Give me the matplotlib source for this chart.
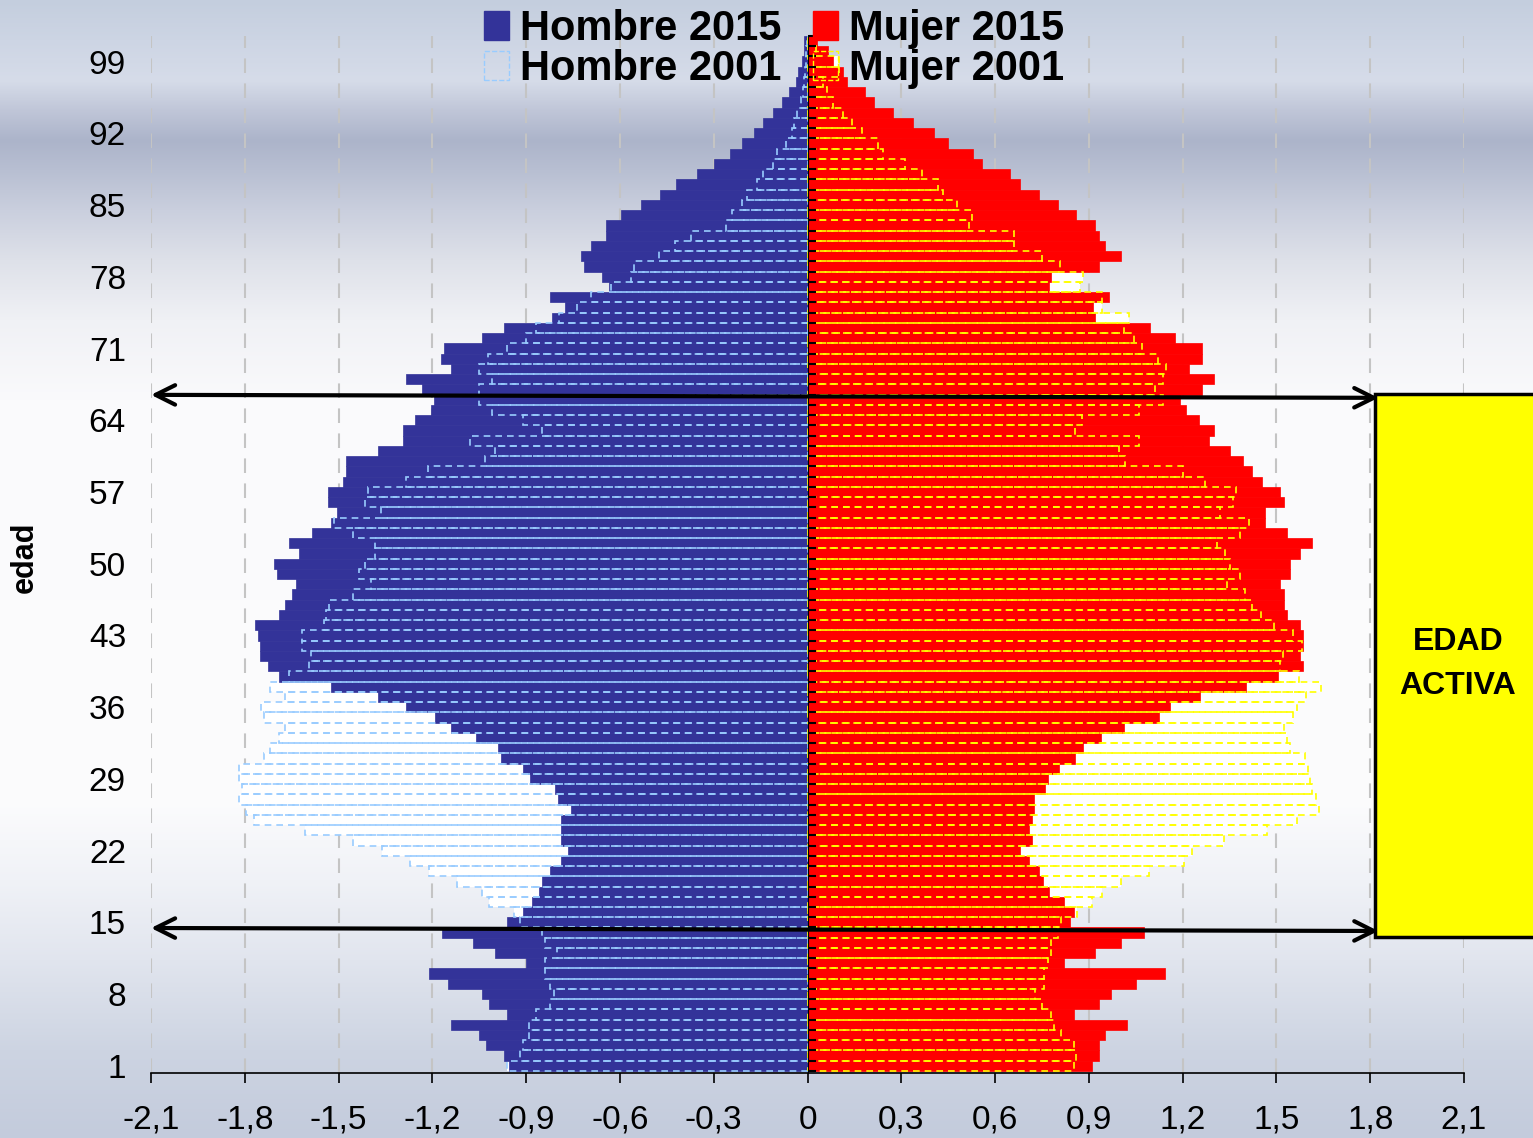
import numpy as np
import matplotlib
matplotlib.use("Agg")
import matplotlib.pyplot as plt
from matplotlib.patches import Patch, Rectangle

plt.rcParams['font.family'] = ['Liberation Sans', 'DejaVu Sans']

# edades 1..101
edades = np.arange(1, 102)

hombre_2015 = [
    -0.956, -0.97, -1.03, -1.05, -1.14, -0.96, -1.02, -1.04, -1.15, -1.21,
    -0.90, -1.00, -1.07, -1.17, -0.96, -0.91, -0.88, -0.86, -0.85, -0.825,
    -0.79, -0.767, -0.788, -0.788, -0.788, -0.758, -0.798, -0.807, -0.888, -0.91,
    -0.98, -0.99, -1.06, -1.14, -1.19, -1.285, -1.375, -1.525, -1.69, -1.726,
    -1.75, -1.75, -1.758, -1.768, -1.69, -1.67, -1.65, -1.637, -1.698, -1.708,
    -1.628, -1.657, -1.586, -1.525, -1.506, -1.535, -1.535, -1.487, -1.477, -1.477,
    -1.375, -1.295, -1.295, -1.254, -1.203, -1.194, -1.234, -1.285, -1.14, -1.173,
    -1.163, -1.042, -0.97, -0.816, -0.777, -0.825, -0.634, -0.656, -0.716, -0.726,
    -0.694, -0.646, -0.646, -0.595, -0.534, -0.473, -0.422, -0.352, -0.30, -0.249,
    -0.211, -0.17, -0.141, -0.109, -0.08, -0.058, -0.038, -0.029, -0.019, -0.012,
    -0.01]

hombre_2001 = [
    -0.96, -0.92, -0.91, -0.89, -0.89, -0.87, -0.825, -0.81, -0.825, -0.84,
    -0.84, -0.80, -0.84, -0.85, -0.92, -0.94, -1.02, -1.04, -1.12, -1.21,
    -1.27, -1.36, -1.455, -1.607, -1.77, -1.797, -1.82, -1.81, -1.82, -1.82,
    -1.74, -1.718, -1.69, -1.67, -1.74, -1.748, -1.67, -1.718, -1.66, -1.595,
    -1.588, -1.617, -1.617, -1.548, -1.54, -1.53, -1.455, -1.395, -1.434, -1.415,
    -1.385, -1.385, -1.455, -1.516, -1.364, -1.415, -1.405, -1.283, -1.214, -1.031,
    -1.0, -1.08, -0.85, -0.909, -1.01, -1.052, -1.052, -1.01, -1.052, -1.022,
    -0.96, -0.90, -0.867, -0.796, -0.736, -0.694, -0.63, -0.564, -0.556, -0.474,
    -0.423, -0.372, -0.262, -0.243, -0.211, -0.192, -0.16, -0.141, -0.109, -0.099,
    -0.07, -0.051, -0.042, -0.032, -0.022, -0.015, -0.01, -0.008, -0.005, -0.004,
    -0.003]

mujer_2015 = [
    0.911, 0.934, 0.934, 0.953, 1.023, 0.851, 0.934, 0.972, 1.052, 1.145,
    0.822, 0.921, 1.004, 1.075, 0.841, 0.851, 0.822, 0.771, 0.752, 0.739,
    0.71, 0.679, 0.718, 0.708, 0.718, 0.726, 0.726, 0.759, 0.769, 0.806,
    0.857, 0.88, 0.938, 1.011, 1.123, 1.161, 1.254, 1.404, 1.505, 1.585,
    1.575, 1.585, 1.585, 1.575, 1.533, 1.525, 1.525, 1.513, 1.544, 1.544,
    1.575, 1.614, 1.533, 1.464, 1.464, 1.525, 1.513, 1.455, 1.422, 1.393,
    1.352, 1.283, 1.30, 1.253, 1.212, 1.19, 1.262, 1.30, 1.22, 1.262,
    1.262, 1.174, 1.094, 0.921, 0.912, 0.963, 0.771, 0.78, 0.934, 1.004,
    0.953, 0.934, 0.921, 0.86, 0.80, 0.739, 0.681, 0.649, 0.559, 0.528,
    0.448, 0.406, 0.336, 0.275, 0.214, 0.185, 0.125, 0.114, 0.083, 0.064,
    0.03]

mujer_2001 = [
    0.853, 0.86, 0.853, 0.811, 0.79, 0.78, 0.75, 0.729, 0.758, 0.758,
    0.77, 0.78, 0.78, 0.80, 0.811, 0.861, 0.909, 0.941, 1.002, 1.092,
    1.203, 1.231, 1.333, 1.471, 1.565, 1.635, 1.627, 1.614, 1.606, 1.60,
    1.592, 1.544, 1.533, 1.525, 1.554, 1.565, 1.593, 1.643, 1.573, 1.513,
    1.522, 1.583, 1.554, 1.492, 1.452, 1.422, 1.40, 1.341, 1.382, 1.352,
    1.336, 1.311, 1.382, 1.413, 1.321, 1.362, 1.372, 1.27, 1.20, 1.017,
    0.998, 1.059, 0.857, 0.878, 1.061, 1.138, 1.11, 1.138, 1.148, 1.12,
    1.07, 1.043, 1.014, 1.03, 0.941, 0.941, 0.873, 0.88, 0.809, 0.75,
    0.659, 0.659, 0.518, 0.527, 0.479, 0.435, 0.418, 0.365, 0.313, 0.243,
    0.224, 0.173, 0.143, 0.112, 0.083, 0.063, 0.051, 0.102, 0.102, 0.026,
    0.02]

xticks = np.round(np.arange(-2.1, 2.11, 0.3), 1)
yticks = np.arange(1, 100, 7)

AZUL = '#333399'
ROJO = '#FF0000'
AZUL_CLARO = '#99CCFF'
AMARILLO = '#FFFF00'

fig = plt.figure(figsize=(15.33, 11.38), dpi=100)

# fondo degradado (cielo)
bg = fig.add_axes([0, 0, 1, 1], zorder=-10)
stops_y = [0, 40, 80, 110, 140, 170, 210, 260, 320, 400, 800, 880, 960, 1050, 1138]
stops_c = np.array([
    (196, 206, 222), (205, 213, 228), (214, 220, 233), (192, 198, 216),
    (172, 180, 202), (184, 191, 210), (202, 207, 222), (222, 225, 233),
    (240, 241, 245), (250, 250, 252), (252, 252, 253), (240, 242, 247),
    (225, 229, 238), (205, 212, 226), (195, 203, 220)]) / 255.0
yy = np.arange(1138)
grad = np.stack([np.interp(yy, stops_y, stops_c[:, i]) for i in range(3)], axis=1)
bg.imshow(grad[:, None, :], aspect='auto', extent=[0, 1, 0, 1])
bg.axis('off')

ax = fig.add_axes([151 / 1533, 65 / 1138, 1313 / 1533, 1037 / 1138])
ax.set_facecolor('none')

# 2001: relleno blanco por detras
ax.barh(edades, hombre_2001, height=1.0, color='white', linewidth=0, zorder=2)
ax.barh(edades, mujer_2001, height=1.0, color='white', linewidth=0, zorder=2)
# 2015
ax.barh(edades, hombre_2015, height=1.0, color=AZUL, edgecolor=AZUL, linewidth=0.5, zorder=3)
ax.barh(edades, mujer_2015, height=1.0, color=ROJO, edgecolor=ROJO, linewidth=0.5, zorder=3)
# 2001: contorno discontinuo encima
ax.barh(edades, hombre_2001, height=1.0, fill=False, edgecolor=AZUL_CLARO,
        linestyle=(0, (4, 3)), linewidth=1.2, zorder=4)
ax.barh(edades, mujer_2001, height=1.0, fill=False, edgecolor=AMARILLO,
        linestyle=(0, (4, 3)), linewidth=1.2, zorder=4)

ax.set_xlim(-2.1, 2.1)
ax.set_ylim(0.3, 101.5)

ax.set_xticks(xticks)
ax.set_xticklabels(['0' if v == 0 else f'{v:.1f}'.replace('.', ',') for v in xticks])
ax.tick_params(axis='x', labelsize=24, length=7, width=1.2, pad=16, direction='out')
ax.set_yticks(yticks)
ax.set_yticklabels([str(v) for v in yticks])
ax.tick_params(axis='y', labelsize=24, length=0, pad=18)

ax.xaxis.grid(True, linestyle=(0, (7, 5)), color='#C4C4C4', linewidth=1.5)
ax.set_axisbelow(True)

for s in ['left', 'right', 'top']:
    ax.spines[s].set_visible(False)
ax.spines['bottom'].set_linewidth(1.2)

# eje central con marcas
sec = ax.secondary_yaxis(0.5)
sec.set_yticks(np.arange(0.5, 101.6, 1))
sec.set_yticklabels([])
sec.tick_params(length=6, width=1.5, direction='out', color='black')
sec.spines['left'].set_linewidth(2)
sec.set_zorder(5)

ax.set_ylabel('edad', fontsize=22, fontweight='bold')
ax.yaxis.set_label_coords(-0.0845, 0.497)

# flechas de edad activa
for y0, y1 in [(66.48, 66.19), (14.45, 14.16)]:
    ax.annotate('', xy=(1.826, y1), xytext=(-2.1, y0),
                arrowprops=dict(arrowstyle='<->', lw=3, color='black',
                                mutation_scale=35, shrinkA=0, shrinkB=0),
                annotation_clip=False, zorder=6)

box = Rectangle((1375 / 1533, 1 - 937 / 1138), (1560 - 1375) / 1533, (937 - 394) / 1138,
                transform=fig.transFigure, facecolor=AMARILLO, edgecolor='black',
                linewidth=2.5, zorder=7)
fig.add_artist(box)
fig.text(1458 / 1533, 1 - 664 / 1138, 'EDAD\nACTIVA', ha='center', va='center',
         fontsize=23, fontweight='bold', linespacing=1.65, zorder=8)

handles = [Patch(facecolor=AZUL, edgecolor=AZUL),
           Patch(facecolor='none', edgecolor=AZUL_CLARO, linestyle='--'),
           Patch(facecolor=ROJO, edgecolor=ROJO),
           Patch(facecolor='none', edgecolor=AMARILLO, linestyle='--')]
labels = ['Hombre 2015', 'Hombre 2001', 'Mujer 2015', 'Mujer 2001']
leg = fig.legend(handles, labels, ncol=2, loc='upper left',
                 bbox_to_anchor=(463 / 1533, 1 + 12 / 1138), frameon=False,
                 prop={'size': 30, 'weight': 'bold'}, borderpad=0,
                 handlelength=0.6, handleheight=0.7, handletextpad=0.27,
                 columnspacing=0.75, labelspacing=0.0)

fig.savefig('out.png', dpi=100)
